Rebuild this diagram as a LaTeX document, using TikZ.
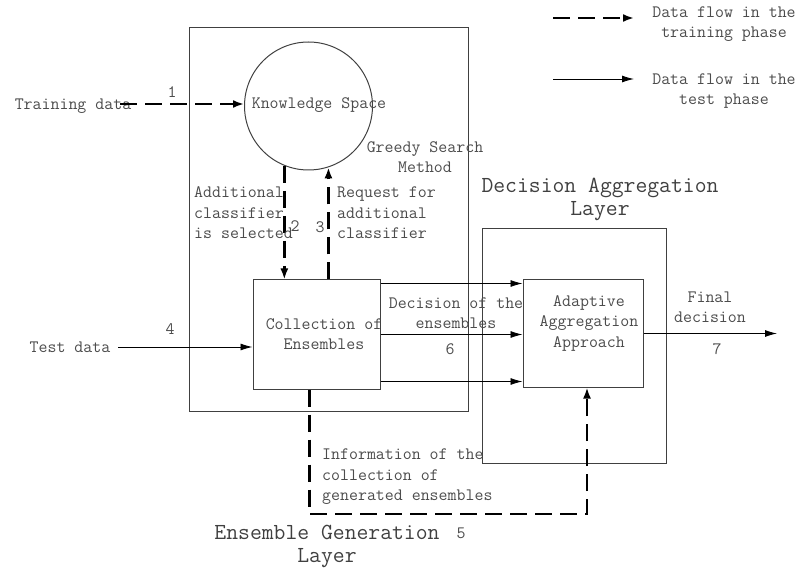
\documentclass[tikz,border=0pt]{standalone}
\usetikzlibrary{arrows.meta}
\tikzset{
  txt/.style={font=\ttfamily\fontsize{17.4}{20.5}\selectfont, text=black!70, inner sep=0pt},
  ttl/.style={font=\ttfamily\fontsize{23}{23}\selectfont, text=black!75, inner sep=0pt, align=center},
  frame/.style={draw=black!75, line width=1pt, inner sep=0pt},
  test/.style={draw=black, line width=0.9pt, -{Latex[length=12pt,width=7pt]}},
  train/.style={draw=black, line width=2.4pt, dash pattern=on 17pt off 8pt, -{Latex[length=11pt,width=8pt]}},
}
\begin{document}
\begin{tikzpicture}[x=1pt,y=-1pt]
  \useasboundingbox (0,0) rectangle (801,572);
  % layers
  \node[frame, minimum width=279pt, minimum height=383pt] (egl) at (328.5,219.5) {};
  \node[frame, minimum width=184pt, minimum height=234pt] (dal) at (574,346) {};
  \node[ttl] (egltitle) at (327,546) {Ensemble Generation\\Layer};
  \node[ttl] (daltitle) at (600,199) {Decision Aggregation\\Layer};
  % blocks
  \node[frame, circle, minimum size=128pt] (ks) at (308.5,106) {};
  \node[txt] (kstext) at (319,105) {Knowledge Space};
  \node[frame, fill=white, minimum width=127pt, minimum height=109pt] (coll) at (316.5,334.5) {};
  \node[txt, align=center] (colltext) at (324,334) {Collection of\\Ensembles};
  \node[frame, fill=white, minimum width=120pt, minimum height=107pt] (adapt) at (583,333.5) {};
  \node[txt, align=center] (adapttext) at (589,323) {Adaptive\\Aggregation\\Approach};
  % inputs and output
  \node[txt] (trn) at (73,106) {Training data};
  \node[txt] (tst) at (70,347) {Test data};
  \coordinate (trnend) at (120,104);
  \coordinate (tstend) at (118,347);
  \coordinate (out) at (777,333.5);
  \coordinate (bend) at (450,514);
  \draw[train] (trnend) -- (trnend -| ks.west);
  \draw[test] (tstend) -- (tstend -| coll.west);
  \draw[train] (ks.248) -- (ks.248 |- coll.north);
  \draw[train] (ks.-72 |- coll.north) -- (ks.-72);
  \draw[test] ([yshift=-4pt]coll.north east) -- ([yshift=-4pt]coll.north east -| adapt.west);
  \draw[test] (coll.east) -- (coll.east -| adapt.west);
  \draw[test] ([yshift=8pt]coll.south east) -- ([yshift=8pt]coll.south east -| adapt.west);
  \draw[test] (adapt.east) -- (out);
  \draw[train] ([xshift=-7pt]coll.south) |- (bend) -| ([xshift=4pt]adapt.south);
  % labels
  \node[txt] (n1) at (172,92) {1};
  \node[txt] (n2) at (295,226) {2};
  \node[txt] (n3) at (320,227) {3};
  \node[txt] (n4) at (170,329) {4};
  \node[txt] (n5) at (461,533) {5};
  \node[txt] (n6) at (450,349) {6};
  \node[txt] (n7) at (717,349) {7};
  \node[txt, align=center] (greedy) at (425,157) {Greedy Search\\Method};
  \node[txt, align=left, anchor=west] (sel) at (194,213) {Additional\\classifier\\is selected};
  \node[txt, align=left, anchor=west] (req) at (337,213) {Request for\\additional\\classifier};
  \node[txt, align=center] (dec) at (456,313) {Decision of the\\ensembles};
  \node[txt, align=center] (fin) at (710,307) {Final\\decision};
  \node[txt, align=left, anchor=west] (info) at (322,477) {Information of the\\collection of\\generated ensembles};
  % legend
  \coordinate (lga) at (553,18);
  \coordinate (lgb) at (634,18);
  \coordinate (lgc) at (553,79);
  \coordinate (lgd) at (634,79);
  \draw[train] (lga) -- (lgb);
  \draw[test] (lgc) -- (lgd);
  \node[txt, align=center] (lgtrain) at (724,24) {Data flow in the\\training phase};
  \node[txt, align=center] (lgtest) at (724,91) {Data flow in the\\test phase};
\end{tikzpicture}
\end{document}
